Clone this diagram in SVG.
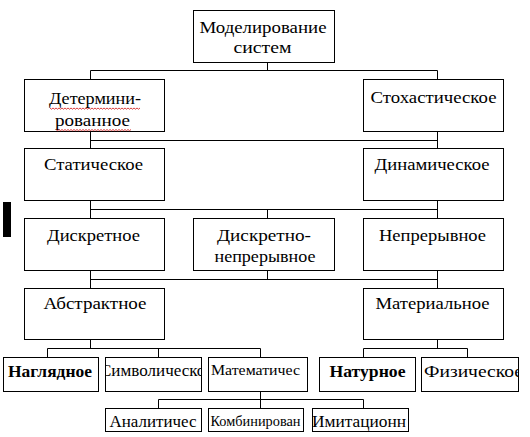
<svg xmlns="http://www.w3.org/2000/svg" width="530" height="437" viewBox="0 0 530 437">
<style>
  .box { fill: #ffffff; stroke: #000000; stroke-width: 1; }
  .t { font-family: "Liberation Serif", "Times New Roman", "DejaVu Serif", serif; fill: #000000; font-size: 16px; }
  .m { text-anchor: middle; }
  .b { font-weight: bold; }
  .s { font-size: 15px; }
  .xs { font-size: 14px; }
  .lg { font-size: 17px; }
  .conn { fill: none; stroke: #000000; stroke-width: 1; }
  .squig { fill: none; stroke: #d01010; stroke-width: 0.8; }
</style>
<defs>
  <clipPath id="clipSym"><rect x="106" y="358" width="95" height="33"/></clipPath>
  <clipPath id="clipFiz"><rect x="422" y="358" width="96" height="33"/></clipPath>
  <clipPath id="clipImit"><rect x="313" y="409" width="95" height="22"/></clipPath>
</defs>
<rect width="530" height="437" fill="#ffffff"/>

<g id="connectors">
  <path class="conn" d="M267.5 62.5 V70.5 M90.5 70.5 H437.5 M90.5 70.5 V79.5 M437.5 70.5 V79.5"/>
  <path class="conn" d="M90.5 131.5 V148.5 M437.5 131.5 V148.5 M90.5 140.5 H437.5"/>
  <path class="conn" d="M90.5 200.5 V218.5 M437.5 200.5 V218.5 M90.5 209.5 H437.5 M267.5 209.5 V218.5"/>
  <path class="conn" d="M90.5 270.5 V288.5 M437.5 270.5 V288.5 M90.5 279.5 H437.5 M267.5 270.5 V279.5"/>
  <path class="conn" d="M90.5 339.5 V348.5 M47.5 348.5 H260.5 M47.5 348.5 V357.5 M158.5 348.5 V357.5 M260.5 348.5 V357.5"/>
  <path class="conn" d="M437.5 339.5 V348.5 M363.5 348.5 H467.5 M363.5 348.5 V357.5 M467.5 348.5 V357.5"/>
  <path class="conn" d="M260.5 391.5 V399.5 M158.5 399.5 H363.5 M158.5 399.5 V408.5 M260.5 399.5 V408.5 M363.5 399.5 V408.5"/>
</g>

<rect x="3" y="202" width="8" height="35" fill="#000000"/>

<g id="n-root">
  <rect class="box" x="193.5" y="10.5" width="141" height="52"/>
  <text class="t m" x="263" y="33" textLength="127" lengthAdjust="spacingAndGlyphs">Моделирование</text>
  <text class="t m" x="262.5" y="53" textLength="58" lengthAdjust="spacingAndGlyphs">систем</text>
</g>

<g id="n-determ">
  <rect class="box" x="24.5" y="79.5" width="140" height="52"/>
  <text class="t m" x="95" y="104" textLength="92" lengthAdjust="spacingAndGlyphs">Детермини-</text>
  <text class="t m" x="92.5" y="126" textLength="75" lengthAdjust="spacingAndGlyphs">рованное</text>
  <path class="squig" d="M50 108 l1.5 1.2 l1.5 -1.2 l1.5 1.2 l1.5 -1.2 l1.5 1.2 l1.5 -1.2 l1.5 1.2 l1.5 -1.2 l1.5 1.2 l1.5 -1.2 l1.5 1.2 l1.5 -1.2 l1.5 1.2 l1.5 -1.2 l1.5 1.2 l1.5 -1.2 l1.5 1.2 l1.5 -1.2 l1.5 1.2 l1.5 -1.2 l1.5 1.2 l1.5 -1.2 l1.5 1.2 l1.5 -1.2 l1.5 1.2 l1.5 -1.2 l1.5 1.2 l1.5 -1.2 l1.5 1.2 l1.5 -1.2 l1.5 1.2 l1.5 -1.2 l1.5 1.2 l1.5 -1.2 l1.5 1.2 l1.5 -1.2 l1.5 1.2 l1.5 -1.2 l1.5 1.2 l1.5 -1.2 l1.5 1.2 l1.5 -1.2 l1.5 1.2 l1.5 -1.2 l1.5 1.2 l1.5 -1.2 l1.5 1.2 l1.5 -1.2 l1.5 1.2 l1.5 -1.2 l1.5 1.2 l1.5 -1.2 l1.5 1.2 l1.5 -1.2 l1.5 1.2 l1.5 -1.2 l1.5 1.2 l1.5 -1.2 l1.5 1.2 l1.5 -1.2"/>
  <path class="squig" d="M56 129.5 l1.5 1.2 l1.5 -1.2 l1.5 1.2 l1.5 -1.2 l1.5 1.2 l1.5 -1.2 l1.5 1.2 l1.5 -1.2 l1.5 1.2 l1.5 -1.2 l1.5 1.2 l1.5 -1.2 l1.5 1.2 l1.5 -1.2 l1.5 1.2 l1.5 -1.2 l1.5 1.2 l1.5 -1.2 l1.5 1.2 l1.5 -1.2 l1.5 1.2 l1.5 -1.2 l1.5 1.2 l1.5 -1.2 l1.5 1.2 l1.5 -1.2 l1.5 1.2 l1.5 -1.2 l1.5 1.2 l1.5 -1.2 l1.5 1.2 l1.5 -1.2 l1.5 1.2 l1.5 -1.2 l1.5 1.2 l1.5 -1.2 l1.5 1.2 l1.5 -1.2 l1.5 1.2 l1.5 -1.2 l1.5 1.2 l1.5 -1.2 l1.5 1.2 l1.5 -1.2 l1.5 1.2 l1.5 -1.2 l1.5 1.2 l1.5 -1.2 l1.5 1.2 l1.5 -1.2"/>
</g>

<g id="n-stoch">
  <rect class="box" x="363.5" y="79.5" width="140" height="52"/>
  <text class="t m" x="433.5" y="103" textLength="126" lengthAdjust="spacingAndGlyphs">Стохастическое</text>
</g>

<g id="n-static">
  <rect class="box" x="24.5" y="148.5" width="140" height="52"/>
  <text class="t m" x="93.5" y="170" textLength="99" lengthAdjust="spacingAndGlyphs">Статическое</text>
</g>

<g id="n-dynamic">
  <rect class="box" x="363.5" y="148.5" width="140" height="52"/>
  <text class="t m" x="432" y="170" textLength="115" lengthAdjust="spacingAndGlyphs">Динамическое</text>
</g>

<g id="n-discrete">
  <rect class="box" x="24.5" y="218.5" width="140" height="52"/>
  <text class="t m" x="93.5" y="241" textLength="93" lengthAdjust="spacingAndGlyphs">Дискретное</text>
</g>

<g id="n-discrete-cont">
  <rect class="box" x="193.5" y="218.5" width="141" height="52"/>
  <text class="t m" x="264" y="241" textLength="94" lengthAdjust="spacingAndGlyphs">Дискретно-</text>
  <text class="t m" x="265" y="261.5" textLength="101" lengthAdjust="spacingAndGlyphs">непрерывное</text>
</g>

<g id="n-continuous">
  <rect class="box" x="363.5" y="218.5" width="140" height="52"/>
  <text class="t m" x="432.5" y="241" textLength="107" lengthAdjust="spacingAndGlyphs">Непрерывное</text>
</g>

<g id="n-abstract">
  <rect class="box" x="24.5" y="288.5" width="140" height="51"/>
  <text class="t lg m" x="95" y="308.5" textLength="103" lengthAdjust="spacingAndGlyphs">Абстрактное</text>
</g>

<g id="n-material">
  <rect class="box" x="363.5" y="288.5" width="140" height="51"/>
  <text class="t lg m" x="432.5" y="308.5" textLength="114" lengthAdjust="spacingAndGlyphs">Материальное</text>
</g>

<g id="n-visual">
  <rect class="box" x="3.5" y="357.5" width="95" height="34"/>
  <text class="t lg b" x="8" y="376.5" textLength="84" lengthAdjust="spacingAndGlyphs">Наглядное</text>
</g>

<g id="n-symbolic">
  <rect class="box" x="105.5" y="357.5" width="96" height="34"/>
  <text class="t" x="100" y="376" textLength="113" lengthAdjust="spacingAndGlyphs" clip-path="url(#clipSym)">Символическое</text>
</g>

<g id="n-math">
  <rect class="box" x="208.5" y="357.5" width="99" height="34"/>
  <text class="t s" x="211" y="375" textLength="89" lengthAdjust="spacingAndGlyphs">Математичес</text>
</g>

<g id="n-natural">
  <rect class="box" x="319.5" y="357.5" width="96" height="34"/>
  <text class="t lg b" x="329.5" y="376.5" textLength="76" lengthAdjust="spacingAndGlyphs">Натурное</text>
</g>

<g id="n-physical">
  <rect class="box" x="421.5" y="357.5" width="97" height="34"/>
  <text class="t lg" x="424" y="376.5" textLength="99" lengthAdjust="spacingAndGlyphs" clip-path="url(#clipFiz)">Физическое</text>
</g>

<g id="n-analytic">
  <rect class="box" x="105.5" y="408.5" width="96" height="23"/>
  <text class="t" x="109.5" y="427" textLength="87" lengthAdjust="spacingAndGlyphs">Аналитичес</text>
</g>

<g id="n-combined">
  <rect class="box" x="208.5" y="408.5" width="95" height="23"/>
  <text class="t xs" x="210.5" y="425.5" textLength="90" lengthAdjust="spacingAndGlyphs">Комбинирован</text>
</g>

<g id="n-imitation">
  <rect class="box" x="312.5" y="408.5" width="96" height="23"/>
  <text class="t" x="312" y="427" textLength="94" lengthAdjust="spacingAndGlyphs" clip-path="url(#clipImit)">Имитационн</text>
</g>
</svg>
